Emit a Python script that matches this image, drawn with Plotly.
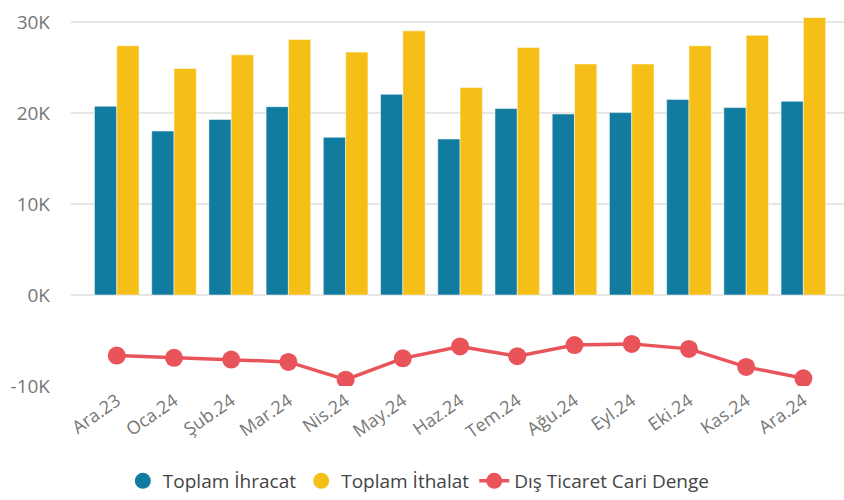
import plotly.graph_objects as go

# Monthly foreign trade figures (USD million)
months = ["Ara.23", "Oca.24", "Şub.24", "Mar.24", "Nis.24", "May.24", "Haz.24",
          "Tem.24", "Ağu.24", "Eyl.24", "Eki.24", "Kas.24", "Ara.24"]
exports = [20750, 18030, 19300, 20700, 17340, 22060, 17150, 20500, 19900, 20050, 21500, 20600, 21300]
imports = [27400, 24900, 26400, 28100, 26700, 29040, 22800, 27200, 25400, 25400, 27400, 28550, 30500]
balance = [-6650, -6900, -7090, -7350, -9300, -6960, -5650, -6720, -5500, -5370, -5920, -7900, -9150]

y_tick_vals = [-10000, 0, 10000, 20000, 30000]
y_tick_text = ["-10K", "0K", "10K", "20K", "30K"]

C_EXP = "#127CA0"
C_IMP = "#F5BF18"
C_BAL = "#E9545A"
FONT = "Open Sans, Noto Sans, DejaVu Sans, sans-serif"

fig = go.Figure()
fig.add_trace(go.Bar(x=months, y=exports, name="Toplam İhracat", marker_color=C_EXP,
                     marker_line=dict(color="rgba(255,255,255,0.5)", width=1), showlegend=False))
fig.add_trace(go.Bar(x=months, y=imports, name="Toplam İthalat", marker_color=C_IMP,
                     marker_line=dict(color="rgba(255,255,255,0.5)", width=1), showlegend=False))
fig.add_trace(go.Scatter(x=months, y=balance, name="Dış Ticaret Cari Denge", mode="lines+markers",
                         line=dict(color=C_BAL, width=3.5),
                         marker=dict(color=C_BAL, size=18), showlegend=False))

# Legend entries with round swatches
fig.add_trace(go.Scatter(x=[None], y=[None], mode="markers", name="Toplam İhracat",
                         marker=dict(color=C_EXP, size=18, symbol="circle")))
fig.add_trace(go.Scatter(x=[None], y=[None], mode="markers", name="Toplam İthalat",
                         marker=dict(color=C_IMP, size=18, symbol="circle")))
fig.add_trace(go.Scatter(x=[None], y=[None], mode="lines+markers", name="Dış Ticaret Cari Denge",
                         line=dict(color=C_BAL, width=3.5), marker=dict(color=C_BAL, size=18)))

fig.update_layout(
    width=844, height=500,
    margin=dict(l=71, r=0, t=13, b=111),
    paper_bgcolor="white", plot_bgcolor="white",
    barmode="group", bargap=0.22, bargroupgap=0,
    font=dict(family=FONT, color="#777777", size=18),
    legend=dict(orientation="h", x=0.45, xanchor="center", y=-0.255, yanchor="middle",
                font=dict(size=19, color="#444444"), itemsizing="trace",
                traceorder="normal", itemwidth=30, tracegroupgap=0),
    xaxis=dict(type="category", range=[-0.8, 12.71], tickangle=-35, showgrid=False,
               tickfont=dict(size=18, color="#777777"), showline=False, ticks=""),
    yaxis=dict(range=[-10000, 31000], tickvals=y_tick_vals, ticktext=y_tick_text,
               showgrid=True, gridcolor="#E6E6E6", gridwidth=1.5, zeroline=False,
               tickfont=dict(size=19, color="#777777"), ticklabelstandoff=20),
)

fig.write_html("out.html")
